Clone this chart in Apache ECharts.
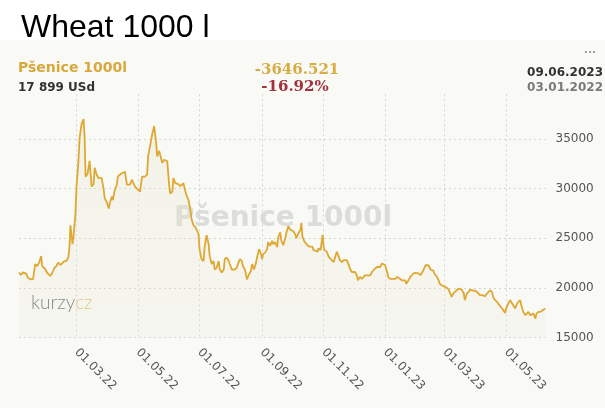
<!DOCTYPE html>
<html>
<head>
<meta charset="utf-8">
<script src="https://cdn.jsdelivr.net/npm/echarts@6/dist/echarts.min.js"></script>
<style>
html, body { margin: 0; padding: 0; background: #ffffff; }
#chart { width: 605px; height: 408px; }
</style>
</head>
<body>
<div id="chart"></div>
<script>
// Wheat 1000 l price history (USd), first quote 03.01.2022
const firstQuote = [2022, 0, 3];

// days since the first quote
const dayOffset = [
  0,2,4,7,9,12,14,16,18,20,22,23,26,28,31,33,35,37,39,41,
  42,45,47,49,50,51,53,54,56,57,59,60,62,64,65,66,68,69,70,72,
  74,75,77,79,80,82,84,85,87,89,90,92,93,95,97,98,100,102,103,105,
  107,108,110,112,113,115,117,118,120,122,123,125,127,128,130,
  132,134,136,137,139,140,142,144,145,147,149,150,152,153,155,156,158,160,161,163,
  165,166,168,170,171,173,175,176,178,179,180,181,183,184,186,188,189,191,193,194,
  196,198,199,201,203,204,206,208,209,211,212,214,216,217,219,221,222,224,226,227,
  228,230,231,233,235,236,238,240,241,242,244,246,247,249,251,252,254,256,257,259,
  260,262,264,265,267,269,270,272,274,275,277,279,280,281,283,284,286,288,289,291,
  292,294,296,297,299,301,302,303,305,307,308,310,312,313,315,317,318,320,322,323,
  325,327,328,330,331,333,335,336,338,340,341,343,345,346,348,350,351,353,355,356,
  358,360,361,363,365,366,368,370,371,373,375,376,378,380,381,383,384,386,388,389,
  391,
  393,394,396,398,399,401,403,404,406,408,409,411,412,414,416,417,419,421,422,424,
  426,427,429,431,432,434,436,437,439,441,442,444,446,447,449,450,452,454,455,457,
  459,460,462,464,465,467,469,470,472,474,475,477,479,480,482,483,485,487,488,490,
  492,493,495,497,498,500,502,503,505,507,508,510,512,513,515,517,518,520,522
];

const price = [
  21546,21300,21560,21430,21000,20850,20900,22400,22200,22550,23200,22200,21900,21500,21200,21500,22000,22200,22550,22300,
  22400,22700,22700,23100,24100,26300,24400,25100,27500,30200,32900,35000,36500,37000,35300,31200,31500,31400,32800,30200,
  30500,32100,31400,31050,30900,31050,29850,29000,28650,28000,28500,29200,28850,29850,30400,31200,31400,31550,31550,31700,
  30400,30200,30400,30900,30900,30200,30000,29850,29700,31200,31400,31200,31400,33250,34300,
  35450,36300,34600,33250,33800,33400,32600,32900,32750,32750,30200,29500,29700,31050,30550,30450,30450,30250,30200,30550,
  29700,29350,28850,27800,26950,26300,26100,26300,25450,23900,23400,22900,22700,24100,25300,24400,23250,22400,22700,21850,
  22050,22700,21850,21550,21850,22900,23050,22700,22400,21850,22050,21850,22050,22400,22900,22700,22200,21850,20850,20700,
  21350,21700,22400,21850,22550,23050,23900,23400,22900,23400,23550,23900,24600,24250,24750,24400,24600,24100,25100,25600,
  24800,24300,25000,25500,26200,25850,26000,25700,25350,25000,25500,25850,26550,25150,24650,24500,24300,24150,24000,24150,
  23800,23750,23650,24000,23800,25350,24150,23800,23650,23150,22950,22800,22600,22950,23650,23150,22800,22600,22800,22600,
  22800,22300,21950,21600,21450,21600,21250,20750,21100,20900,21100,21250,21250,21450,21250,21600,21750,21950,22100,22300,
  22100,22450,22450,22300,21600,21100,20900,20900,21100,20900,21100,20900,20900,20750,20900,20750,20400,20750,21100,21250,
  21450,
  21510,21380,21450,21280,21450,21780,22280,22390,22280,21850,21780,21710,21380,21180,20770,20440,20270,20170,20100,20030,
  19830,19700,19090,19500,19600,19760,19930,20100,19830,19430,18760,19430,19600,19830,19760,19830,19700,19600,19430,19260,
  19260,19090,19160,19430,19600,19760,19600,19090,18760,18590,18420,18150,17920,17750,17480,17920,18420,18760,18590,18250,
  17920,18250,18590,18760,18250,17580,17240,17240,17580,17240,17410,17410,16910,17410,17580,17580,17750,17820,17899
];

const dateTicks = ['01.03.22', '01.05.22', '01.07.22', '01.09.22', '01.11.22', '01.01.23', '01.03.23', '01.05.23'];
const priceTicks = [15000, 20000, 25000, 30000, 35000];

const headerName = 'Pšenice 1000l';
const headerLast = '17 899 USd';
const headerChange = '-3646.521';
const headerChangePct = '-16.92%';
const headerDateTo = '09.06.2023';
const headerDateFrom = '03.01.2022';

function dayToTime(d) {
  return new Date(firstQuote[0], firstQuote[1], firstQuote[2] + d).getTime();
}
function parseTick(s) {
  const p = s.split('.');
  return new Date(2000 + Number(p[2]), Number(p[1]) - 1, Number(p[0])).getTime();
}
function pad(n) { return (n < 10 ? '0' : '') + n; }
function fmtTick(v) {
  const d = new Date(v);
  return pad(d.getDate()) + '.' + pad(d.getMonth() + 1) + '.' + pad(d.getFullYear() % 100);
}

const seriesData = dayOffset.map((d, i) => [dayToTime(d), price[i]]);
const tickTimes = dateTicks.map(parseTick);

const chart = echarts.init(document.getElementById('chart'), null, { renderer: 'canvas' });

const gridStyle = { color: '#d4d4d0', width: 1, type: [2, 3] };

chart.setOption({
  animation: false,
  backgroundColor: 'transparent',
  grid: { left: 19, right: 59.5, top: 94.3, bottom: 70.5, outerBoundsMode: 'none' },
  xAxis: {
    type: 'value',
    min: dayToTime(dayOffset[0]),
    max: dayToTime(dayOffset[dayOffset.length - 1]),
    axisLine: { show: false },
    axisTick: { show: false, customValues: tickTimes },
    axisLabel: {
      customValues: tickTimes,
      formatter: fmtTick,
      rotate: -45,
      margin: 13,
      color: '#555',
      fontSize: 12,
      fontFamily: 'DejaVu Sans'
    },
    splitLine: { show: true, lineStyle: gridStyle }
  },
  yAxis: {
    type: 'value',
    position: 'right',
    min: priceTicks[0],
    max: 39500,
    interval: 5000,
    axisLine: { show: false },
    axisTick: { show: false },
    axisLabel: {
      showMaxLabel: false,
      formatter: (v) => String(v),
      margin: 10,
      color: '#555',
      fontSize: 12,
      fontFamily: 'DejaVu Sans'
    },
    splitLine: { show: true, showMaxLine: false, lineStyle: gridStyle }
  },
  graphic: [
    { type: 'rect', z: -10, silent: true, shape: { x: 0, y: 40, width: 605, height: 368 }, style: { fill: '#f9f9f6' } },
    { type: 'text', z: -5, silent: true, style: { text: 'Wheat 1000 l', x: 21, y: 28, textVerticalAlign: 'middle', font: '32px "Liberation Sans", Arial, sans-serif', fill: '#000' } },
    { type: 'text', z: -5, silent: true, style: { text: '...', x: 590, y: 50, textAlign: 'center', textVerticalAlign: 'middle', font: 'bold 11px "DejaVu Sans"', fill: '#9a9a9a' } },
    { type: 'text', z: -5, silent: true, style: { text: headerName, x: 18, y: 68.5, textVerticalAlign: 'middle', font: 'bold 14px "DejaVu Sans"', fill: '#d9a83c' } },
    { type: 'text', z: -5, silent: true, style: { text: headerLast, x: 18, y: 87.5, textVerticalAlign: 'middle', font: 'bold 12px "DejaVu Sans"', fill: '#333' } },
    { type: 'text', z: -5, silent: true, style: { text: headerChange, x: 297, y: 70.5, textAlign: 'center', textVerticalAlign: 'middle', font: 'bold 15px "DejaVu Serif"', fill: '#d9ab45' } },
    { type: 'text', z: -5, silent: true, style: { text: headerChangePct, x: 295, y: 87, textAlign: 'center', textVerticalAlign: 'middle', font: 'bold 15px "DejaVu Serif"', fill: '#a5313d' } },
    { type: 'text', z: -5, silent: true, style: { text: headerDateTo, x: 603, y: 72.5, textAlign: 'right', textVerticalAlign: 'middle', font: 'bold 12px "DejaVu Sans"', fill: '#333' } },
    { type: 'text', z: -5, silent: true, style: { text: headerDateFrom, x: 603, y: 88, textAlign: 'right', textVerticalAlign: 'middle', font: 'bold 12px "DejaVu Sans"', fill: '#7a7a7a' } },
    { type: 'text', z: -5, silent: true, style: { text: headerName, x: 283, y: 218.5, textAlign: 'center', textVerticalAlign: 'middle', font: 'bold 28px "DejaVu Sans"', fill: '#dcdcda' } },
    { type: 'text', z: -5, silent: true, style: {
        text: '{a|kurzy}{b|cz}', x: 31, y: 303, textVerticalAlign: 'middle',
        rich: {
          a: { fontFamily: 'Lato', fontWeight: 300, fontSize: 19, fill: '#666' },
          b: { fontFamily: 'Lato', fontWeight: 300, fontSize: 19, fill: '#d9bc6a' }
        }
      } }
  ],
  series: [{
    type: 'line',
    data: seriesData,
    showSymbol: false,
    symbol: 'none',
    z: 3,
    lineStyle: { color: '#dea832', width: 1.8 },
    areaStyle: {
      color: {
        type: 'linear', x: 0, y: 0, x2: 0, y2: 1,
        colorStops: [
          { offset: 0, color: 'rgba(228, 228, 200, 0.45)' },
          { offset: 1, color: 'rgba(236, 236, 220, 0.35)' }
        ]
      }
    }
  }]
});
</script>
</body>
</html>
